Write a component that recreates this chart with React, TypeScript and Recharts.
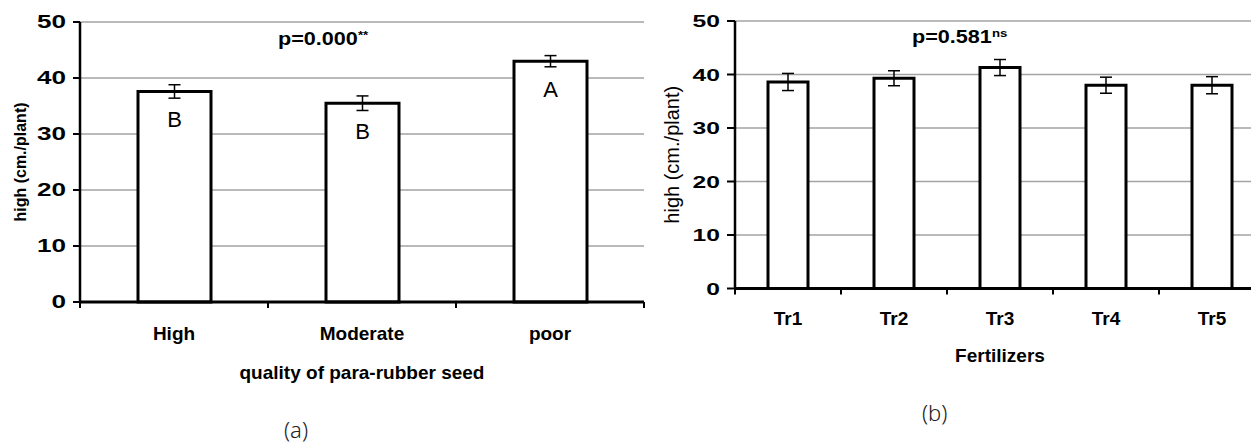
import { BarChart, Bar, XAxis, YAxis, CartesianGrid, ErrorBar, LabelList, Label } from 'recharts';

// (a) seed quality
const qualityCats = ['High', 'Moderate', 'poor'];
const qualityMeans = [37.6, 35.5, 43.0];
const qualityErr = [1.2, 1.3, 1.0];
const qualityGrades = ['B', 'B', 'A'];

// (b) fertilizers
const fertCats = ['Tr1', 'Tr2', 'Tr3', 'Tr4', 'Tr5'];
const fertMeans = [38.6, 39.3, 41.3, 38.0, 38.0];
const fertErr = [1.6, 1.4, 1.5, 1.5, 1.6];

const yTicks = [0, 10, 20, 30, 40, 50];

const qualityData = qualityCats.map((c, i) => ({ cat: c, mean: qualityMeans[i], err: qualityErr[i], grade: qualityGrades[i] }));
const fertData = fertCats.map((c, i) => ({ cat: c, mean: fertMeans[i], err: fertErr[i] }));

const FONT = '"Liberation Sans", Arial, sans-serif';

function YTick(props: any) {
  const { x, y, payload, fs } = props;
  return (
    <text x={x} y={y} dy="0.36em" textAnchor="end" fontFamily={FONT} fontWeight="bold" fontSize={fs} fill="#000"
      transform={`translate(${x} ${y}) scale(1.45 1) translate(${-x} ${-y})`}>
      {payload.value}
    </text>
  );
}

// category label + little tick marks at the category boundaries
function XTick(props: any) {
  const { x, y, payload, index, visibleTicksCount, width, labelDy } = props;
  const half = width && visibleTicksCount ? width / visibleTicksCount / 2 : (payload.offset || 0);
  const isLast = index === visibleTicksCount - 1;
  return (
    <g>
      <line x1={x - half} x2={x - half} y1={y} y2={y + 6} stroke="#000" strokeWidth={2} />
      {isLast && <line x1={x + half} x2={x + half} y1={y} y2={y + 6} stroke="#000" strokeWidth={2} />}
      <text x={x} y={y + labelDy} textAnchor="middle" fontFamily={FONT} fontWeight="bold" fontSize={19} fill="#000">
        {payload.value}
      </text>
    </g>
  );
}

const pStyle: React.CSSProperties = {
  position: 'absolute', fontFamily: FONT, fontWeight: 'bold', fontSize: 18, lineHeight: '18px',
  transform: 'scaleX(1.2)', transformOrigin: 'left center', whiteSpace: 'nowrap', color: '#000',
};

const tagStyle: React.CSSProperties = {
  position: 'absolute', fontFamily: '"Noto Sans", sans-serif', fontWeight: 300, fontSize: 22,
  lineHeight: '22px', color: '#222',
};

export default function App() {
  return (
    <div style={{ position: 'absolute', left: 0, top: 0, width: 1251, height: 444, overflow: 'hidden', background: '#fff' }}>
      <div style={{ position: 'absolute', left: 0, top: 0 }}>
        <BarChart width={660} height={400} data={qualityData} margin={{ top: 22, right: 16, left: 0, bottom: 0 }}>
          <CartesianGrid vertical={false} stroke="#a3a3a3" strokeWidth={1.5} />
          <YAxis domain={[0, 50]} ticks={yTicks} width={80} tickSize={7} tickMargin={7}
            axisLine={{ stroke: '#000', strokeWidth: 2.5 }} tickLine={{ stroke: '#000', strokeWidth: 2 }}
            tick={<YTick fs={18} />}>
            <Label value="high (cm./plant)" angle={-90} position="insideLeft" offset={20}
              style={{ textAnchor: 'middle', fontFamily: FONT, fontWeight: 'bold', fontSize: 16, fill: '#000' }} />
          </YAxis>
          <XAxis dataKey="cat" height={98} interval={0} tickSize={0} tickMargin={0} tickLine={false}
            axisLine={{ stroke: '#000', strokeWidth: 3 }} tick={<XTick labelDy={38} />}>
            <Label value="quality of para-rubber seed" position="insideBottom" offset={21}
              style={{ fontFamily: FONT, fontWeight: 'bold', fontSize: 19, fill: '#000' }} />
          </XAxis>
          <Bar dataKey="mean" fill="#fff" stroke="#000" strokeWidth={3} barSize={73} isAnimationActive={false}>
            <ErrorBar dataKey="err" direction="y" width={6} stroke="#000" strokeWidth={1.5} isAnimationActive={false} />
            <LabelList dataKey="grade" position="insideTop" offset={20} fill="#000"
              style={{ fontFamily: FONT, fontSize: 22 }} />
          </Bar>
        </BarChart>
      </div>

      <div style={{ position: 'absolute', left: 660, top: 0 }}>
        <BarChart width={620} height={400} data={fertData} margin={{ top: 21, right: 15, left: 0, bottom: 0 }}>
          <CartesianGrid vertical={false} stroke="#a3a3a3" strokeWidth={1.5} />
          <YAxis domain={[0, 50]} ticks={yTicks} width={75} tickSize={8} tickMargin={7}
            axisLine={{ stroke: '#000', strokeWidth: 2.5 }} tickLine={{ stroke: '#000', strokeWidth: 2 }}
            tick={<YTick fs={17} />}>
            <Label value="high (cm./plant)" angle={-90} position="insideLeft" offset={12}
              style={{ textAnchor: 'middle', fontFamily: FONT, fontSize: 20, fill: '#000' }} />
          </YAxis>
          <XAxis dataKey="cat" height={111.5} interval={0} tickSize={0} tickMargin={0} tickLine={false}
            axisLine={{ stroke: '#000', strokeWidth: 3 }} tick={<XTick labelDy={36.5} />}>
            <Label value="Fertilizers" position="insideBottom" offset={38}
              style={{ fontFamily: FONT, fontWeight: 'bold', fontSize: 19, fill: '#000' }} />
          </XAxis>
          <Bar dataKey="mean" fill="#fff" stroke="#000" strokeWidth={3} barSize={40} isAnimationActive={false}>
            <ErrorBar dataKey="err" direction="y" width={6} stroke="#000" strokeWidth={1.5} isAnimationActive={false} />
          </Bar>
        </BarChart>
      </div>

      <div style={{ ...pStyle, left: 278, top: 26 }}>p=0.000<sup style={{ fontSize: 11, verticalAlign: 6 }}>**</sup></div>
      <div style={{ ...pStyle, left: 912, top: 24 }}>p=0.581<sup style={{ fontSize: 11, verticalAlign: 6 }}>ns</sup></div>

      <div style={{ ...tagStyle, left: 284, top: 418 }}>(a)</div>
      <div style={{ ...tagStyle, left: 922, top: 401 }}>(b)</div>
    </div>
  );
}
